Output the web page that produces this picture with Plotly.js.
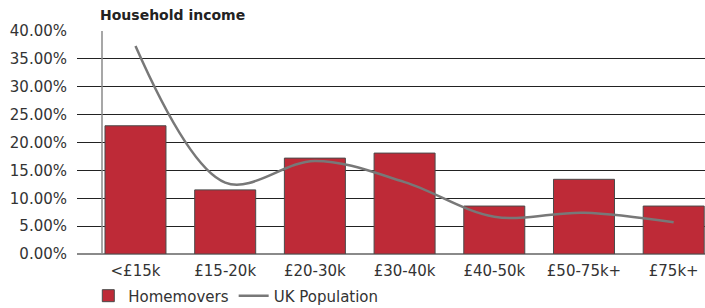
<!DOCTYPE html>
<html>
<head>
<meta charset="utf-8">
<script src="https://cdn.plot.ly/plotly-3.0.1.min.js"></script>
<style>
html,body{margin:0;padding:0;background:#fff;}
#chart{width:705px;height:308px;}
</style>
</head>
<body>
<div id="chart"></div>
<script>
const categories = ['<£15k', '£15-20k', '£20-30k', '£30-40k', '£40-50k', '£50-75k+', '£75k+'];
const homemovers = [0.230, 0.115, 0.172, 0.181, 0.086, 0.134, 0.086];
const ukPopulation = [0.373, 0.128, 0.167, 0.129, 0.067, 0.074, 0.057];
const yTicks = [0, 0.05, 0.10, 0.15, 0.20, 0.25, 0.30, 0.35, 0.40];

const FONT = 'DejaVu Sans';
const traces = [
  {
    type: 'bar',
    name: 'Homemovers',
    x: categories,
    y: homemovers,
    width: 0.68,
    marker: {color: '#BE2A37', line: {color: '#4a4a4a', width: 1}},
    hoverinfo: 'skip'
  },
  {
    type: 'scatter',
    mode: 'lines',
    name: 'UK Population',
    x: categories,
    y: ukPopulation,
    line: {color: '#787878', width: 2.5, shape: 'spline', smoothing: 1},
    hoverinfo: 'skip'
  }
];

const layout = {
  width: 705,
  height: 308,
  margin: {l: 77, r: 0, t: 31, b: 54, pad: 0, autoexpand: false},
  paper_bgcolor: '#ffffff',
  plot_bgcolor: '#ffffff',
  font: {family: FONT, size: 15, color: '#333333'},
  showlegend: true,
  title: {
    text: '<b>Household income</b>',
    font: {family: FONT, size: 14, color: '#222222'},
    xref: 'container', x: 100/705, xanchor: 'left',
    yref: 'container', y: 1 - 15/308, yanchor: 'middle'
  },
  xaxis: {
    type: 'category',
    range: [-0.652, 6.349],
    showgrid: false,
    zeroline: false,
    showline: false,
    ticks: '',
    ticklabelstandoff: 6,
    tickfont: {family: FONT, size: 15, color: '#333333'},
    fixedrange: true,
    automargin: false
  },
  yaxis: {
    range: [0, 0.4],
    tickvals: yTicks,
    tickformat: '.2%',
    showgrid: true,
    gridcolor: '#222222',
    gridwidth: 1,
    zeroline: true,
    zerolinecolor: '#8a8a8a',
    zerolinewidth: 1.5,
    showline: false,
    ticks: '',
    ticklabelstandoff: 9,
    tickfont: {family: FONT, size: 15, color: '#333333'},
    fixedrange: true,
    automargin: false
  },
  shapes: [
    {type: 'line', xref: 'paper', yref: 'paper', x0: 25/628, x1: 25/628, y0: 0, y1: 1,
     line: {color: '#8a8a8a', width: 1.5}, layer: 'above'}
  ],
  legend: {
    orientation: 'h',
    x: 0.018, xanchor: 'left',
    y: -0.188, yanchor: 'middle',
    font: {family: FONT, size: 15, color: '#333333'},
    itemwidth: 30,
    traceorder: 'normal',
    bgcolor: 'rgba(0,0,0,0)'
  },
  bargap: 0.32
};

Plotly.newPlot('chart', traces, layout, {displayModeBar: false, staticPlot: true});
</script>
</body>
</html>
